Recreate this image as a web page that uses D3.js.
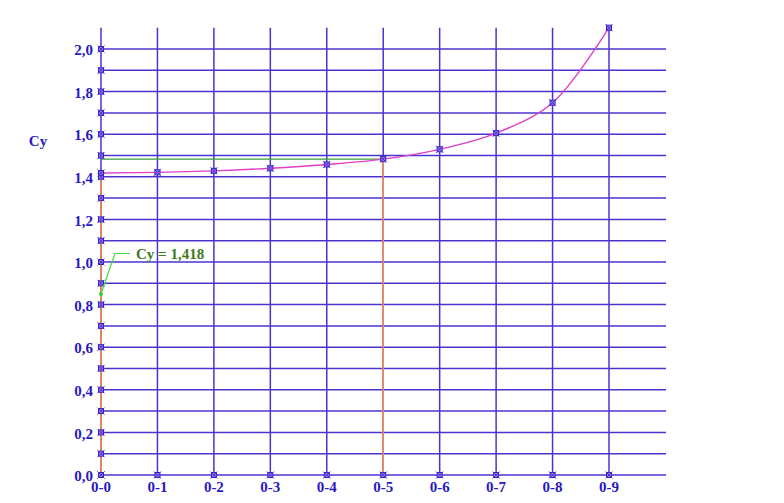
<!DOCTYPE html>
<html><head><meta charset="utf-8">
<script src="https://cdn.jsdelivr.net/npm/d3@7"></script>
<style>body{margin:0;background:#fff}svg{display:block}</style>
</head><body>
<svg id="c" width="784" height="503"></svg>
<script>
const categories = ["0-0","0-1","0-2","0-3","0-4","0-5","0-6","0-7","0-8","0-9"];
const cyValues = [1.418, 1.421, 1.428, 1.44, 1.458, 1.483, 1.529, 1.605, 1.748, 2.10];
const yTicks = [0,0.1,0.2,0.3,0.4,0.5,0.6,0.7,0.8,0.9,1.0,1.1,1.2,1.3,1.4,1.5,1.6,1.7,1.8,1.9,2.0];
const yLabelTicks = [0,0.2,0.4,0.6,0.8,1.0,1.2,1.4,1.6,1.8,2.0];
const annotation = "Cy = 1,418";
const markIndex = 5;

const svg = d3.select("#c");
const x = d3.scalePoint().domain(categories).range([101, 609]);
const y = d3.scaleLinear().domain([0, 2]).range([475, 49]);
const blue = "#4a34d0", txt = "#2a18c4";
const font = "'Liberation Serif','Times New Roman',serif";
const xRight = 666, yTop = y(2.1);

svg.append("g").selectAll("line").data(yTicks).join("line")
  .attr("x1", x(categories[0])).attr("x2", xRight)
  .attr("y1", d => y(d)).attr("y2", d => y(d))
  .attr("stroke", blue).attr("stroke-width", 1.5);
svg.append("g").selectAll("line").data(categories).join("line")
  .attr("x1", d => x(d)).attr("x2", d => x(d))
  .attr("y1", yTop).attr("y2", y(0))
  .attr("stroke", blue).attr("stroke-width", 1.5);

svg.append("line").attr("x1", x(categories[0])).attr("x2", x(categories[0]))
  .attr("y1", y(cyValues[0])).attr("y2", y(0)).attr("stroke", "#ec8a50").attr("stroke-width", 1.8);
svg.append("line").attr("x1", x(categories[markIndex])).attr("x2", x(categories[markIndex]))
  .attr("y1", y(cyValues[markIndex])).attr("y2", y(0)).attr("stroke", "#ec8a50").attr("stroke-width", 1.6);
svg.append("line").attr("x1", x(categories[0])).attr("x2", x(categories[markIndex]))
  .attr("y1", y(cyValues[markIndex])).attr("y2", y(cyValues[markIndex]))
  .attr("stroke", "#3c9a3c").attr("stroke-width", 1.2);

const line = d3.line().x((d,i) => x(categories[i])).y(d => y(d)).curve(d3.curveCatmullRom.alpha(0.5));
svg.append("path").datum(cyValues).attr("d", line)
  .attr("fill", "none").attr("stroke", "#e040c8").attr("stroke-width", 1.4);

function marker(g, cx, cy) {
  g.append("rect").attr("x", cx-2.5).attr("y", cy-2.5).attr("width", 5).attr("height", 5)
    .attr("fill", "#9a7cf0").attr("stroke", "#3a20c0").attr("stroke-width", 1);
  g.append("path").attr("d", `M${cx-3.5},${cy-3.5}L${cx+3.5},${cy+3.5}M${cx-3.5},${cy+3.5}L${cx+3.5},${cy-3.5}`)
    .attr("stroke", "#4a30d0").attr("stroke-width", 1);
}
const mg = svg.append("g");
yTicks.forEach(t => marker(mg, x(categories[0]), y(t)));
categories.forEach(c => marker(mg, x(c), y(0)));
cyValues.forEach((v,i) => marker(mg, x(categories[i]), y(v)));

svg.append("g").selectAll("text").data(yLabelTicks).join("text")
  .attr("x", 93).attr("y", d => y(d) + 1).attr("dy", "0.35em")
  .attr("text-anchor", "end").attr("font-family", font).attr("font-weight", "bold")
  .attr("font-size", 15).attr("fill", txt)
  .text(d => d3.format(".1f")(d).replace(".", ","));
svg.append("g").selectAll("text").data(categories).join("text")
  .attr("x", d => x(d)).attr("y", 492)
  .attr("text-anchor", "middle").attr("font-family", font).attr("font-weight", "bold")
  .attr("font-size", 15).attr("fill", txt).text(d => d);
svg.append("text").attr("x", 38).attr("y", 146).attr("text-anchor", "middle")
  .attr("font-family", font).attr("font-weight", "bold").attr("font-size", 15).attr("fill", txt).text("Cy");

const ax = x(categories[0]), ay = y(0.85);
svg.append("path").attr("d", `M${ax},${ay}L${ax+14},${y(1.04)}L${ax+29},${y(1.04)}`)
  .attr("fill", "none").attr("stroke", "#44dd44").attr("stroke-width", 1.2);
svg.append("circle").attr("cx", ax).attr("cy", ay).attr("r", 2).attr("fill", "#33cc33");
svg.append("text").attr("x", ax+35).attr("y", y(1.04)).attr("dy", "0.35em")
  .attr("font-family", font).attr("font-weight", "bold").attr("font-size", 15)
  .attr("fill", "#3f7a1a").text(annotation);
</script>
</body></html>
